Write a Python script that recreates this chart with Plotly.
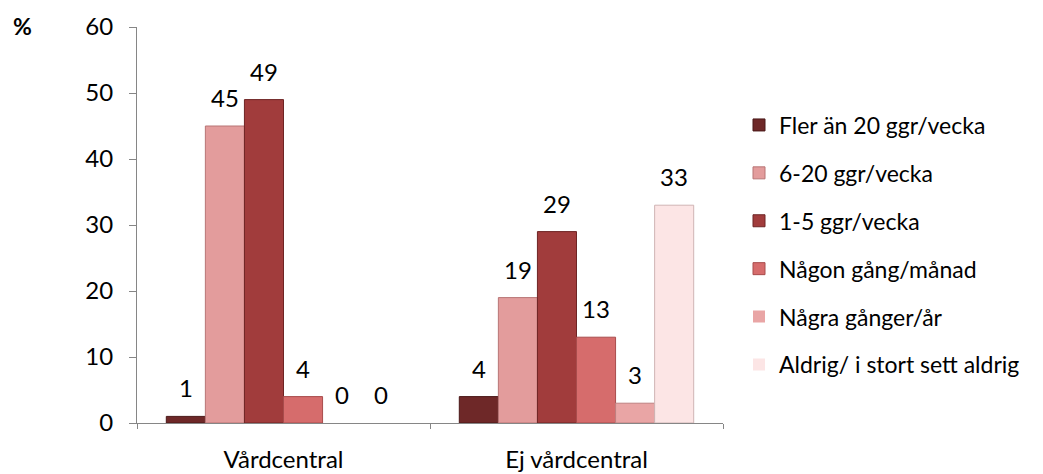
import plotly.graph_objects as go

# Categories and series
categories = ["Vårdcentral", "Ej vårdcentral"]
series_names = [
    "Fler än 20 ggr/vecka",
    "6-20 ggr/vecka",
    "1-5 ggr/vecka",
    "Någon gång/månad",
    "Några gånger/år",
    "Aldrig/ i stort sett aldrig",
]
fler_an_20 = [1, 4]
sex_till_20 = [45, 19]
ett_till_5 = [49, 29]
nagon_gang_manad = [4, 13]
nagra_ganger_ar = [0, 3]
aldrig = [0, 33]
series_values = [fler_an_20, sex_till_20, ett_till_5, nagon_gang_manad, nagra_ganger_ar, aldrig]

y_ticks = [0, 10, 20, 30, 40, 50, 60]

fill_colors = ["#6E2828", "#E39C9C", "#A13C3C", "#D66C6C", "#E9A5A5", "#FCE5E5"]
edge_colors = ["#4A1818", "#B87474", "#6E2424", "#A84C4C", "#BE8080", "#CFB4B4"]

FONT = "Lato, 'Open Sans', sans-serif"
BARGAP = 0.2

# Plot area in pixels
W, H = 1043, 474
L, R, T, B = 137, 320, 27, 51
plot_w = W - L - R
plot_h = H - T - B

fig = go.Figure()
for i, (name, vals) in enumerate(zip(series_names, series_values)):
    fig.add_trace(go.Bar(
        name=name,
        x=categories,
        y=vals,
        marker=dict(
            color=fill_colors[i],
            line=dict(color=edge_colors[i], width=[1 if v > 0 else 0 for v in vals]),
        ),
        legendgroup=name,
        hoverinfo="skip",
    ))

# Value labels above each bar, placed at the bar's center within its group
n_series = len(series_values)
bar_w = (1 - BARGAP) / n_series
annotations = []
for i, vals in enumerate(series_values):
    for j, v in enumerate(vals):
        annotations.append(dict(
            x=j + (i - (n_series - 1) / 2) * bar_w, y=v,
            xref="x", yref="y",
            text=str(v), showarrow=False,
            yanchor="bottom", xanchor="center", yshift=12,
            font=dict(family=FONT, size=24, color="#000000"),
        ))

# Unit label in the top-left corner
annotations.append(dict(
    x=(22 - L) / plot_w, y=(H - B - 26) / plot_h,
    xref="paper", yref="paper",
    text="<b>%</b>", showarrow=False,
    xanchor="center", yanchor="middle",
    font=dict(family=FONT, size=23, color="#000000"),
))

fig.update_layout(
    width=W, height=H, autosize=False,
    margin=dict(l=L, r=R, t=T, b=B),
    paper_bgcolor="white", plot_bgcolor="white",
    barmode="group", bargap=BARGAP, bargroupgap=0,
    font=dict(family=FONT, size=24, color="#000000"),
    showlegend=True,
    legend=dict(
        x=(739 - L) / plot_w, xanchor="left",
        y=(H - B - 245) / plot_h, yanchor="middle",
        traceorder="grouped", tracegroupgap=15,
        font=dict(family=FONT, size=23, color="#000000"),
        bgcolor="rgba(0,0,0,0)", borderwidth=0,
    ),
    annotations=annotations,
)
fig.update_xaxes(
    type="category", categoryorder="array", categoryarray=categories,
    range=[-0.5, 1.5], tickson="boundaries", automargin=False,
    showline=True, linecolor="#868686", linewidth=1,
    ticks="outside", ticklen=5, tickcolor="#868686",
    showgrid=False, zeroline=False,
    ticklabelstandoff=15,
    tickfont=dict(family=FONT, size=24, color="#000000"),
)
fig.update_yaxes(
    range=[0, 60], tickvals=y_ticks, automargin=False,
    showline=True, linecolor="#868686", linewidth=1,
    ticks="outside", ticklen=7, tickcolor="#868686",
    showgrid=False, zeroline=False,
    ticklabelstandoff=11,
    tickfont=dict(family=FONT, size=24, color="#000000"),
)

fig.write_html("out.html")
